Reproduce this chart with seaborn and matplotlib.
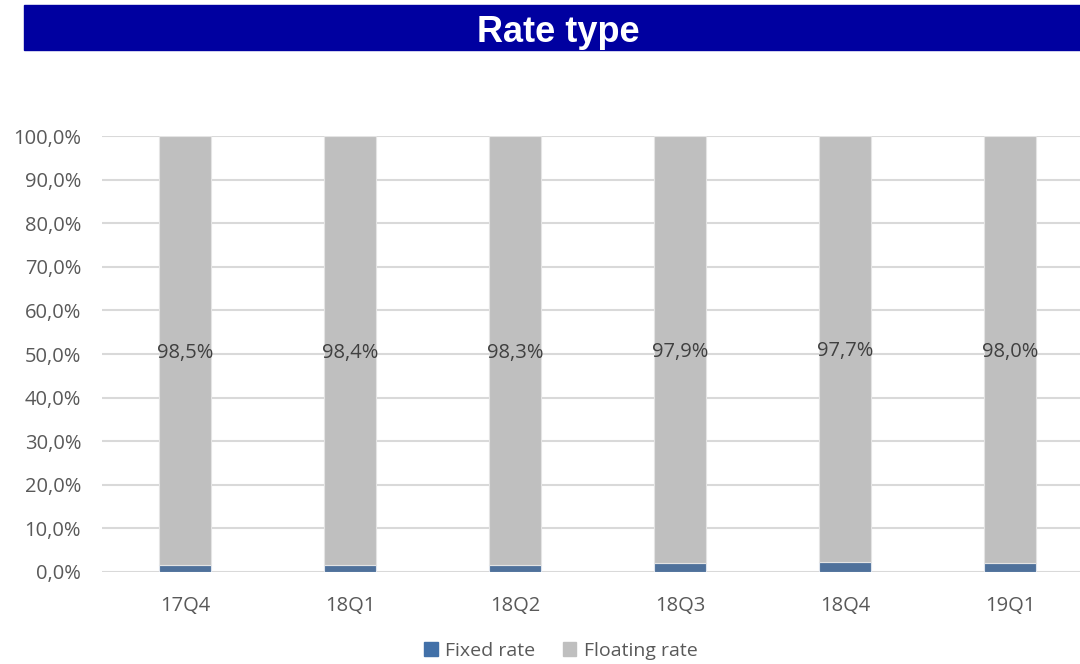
import pandas as pd
import matplotlib.pyplot as plt
import seaborn as sns
from matplotlib.patches import Rectangle, Patch

quarters = ["17Q4", "18Q1", "18Q2", "18Q3", "18Q4", "19Q1"]
floating_rate = [98.5, 98.4, 98.3, 97.9, 97.7, 98.0]
fixed_rate = [1.5, 1.6, 1.7, 2.1, 2.3, 2.0]
y_ticks = [0, 10, 20, 30, 40, 50, 60, 70, 80, 90, 100]

FIXED_COLOR = "#4270A8"
FLOAT_COLOR = "#BFBFBF"
TEXT_COLOR = "#595959"


def pct(v):
    return f"{v:.1f}".replace(".", ",") + "%"


def main():
    df = pd.DataFrame({"quarter": quarters, "fixed": fixed_rate, "floating": floating_rate})

    sns.set_style("white")
    plt.rcParams["font.family"] = ["Open Sans", "DejaVu Sans"]

    fig = plt.figure(figsize=(10.8, 6.64), dpi=100)
    ax = fig.add_axes([102 / 1080, 92 / 664, 978 / 1080, 436 / 664])

    # stacked bars: fixed at the bottom, floating on top
    sns.barplot(data=df, x="quarter", y="fixed", color=FIXED_COLOR, width=0.315,
                edgecolor="#DDE3EC", linewidth=0.8, ax=ax, zorder=3)
    sns.barplot(data=df, x="quarter", y="floating", bottom=df["fixed"], color=FLOAT_COLOR,
                width=0.315, edgecolor="#E4E4E4", linewidth=0.8, ax=ax, zorder=3)

    # labels sit at the middle of the floating segment
    for i, (fx, fl) in enumerate(zip(fixed_rate, floating_rate)):
        ax.text(i, fx + fl / 2, pct(fl), ha="center", va="center_baseline",
                fontsize=14.5, color="#404040", zorder=4)

    ax.set_ylim(0, 100)
    ax.set_xlim(-0.503, 5.424)
    ax.set_yticks(y_ticks)
    ax.set_yticklabels([pct(t) for t in y_ticks])
    ax.yaxis.grid(True, color="#D9D9D9", linewidth=1.5, zorder=0)
    ax.set_axisbelow(True)
    ax.set_xlabel("")
    ax.set_ylabel("")
    ax.tick_params(axis="both", length=0, labelsize=14.5, labelcolor=TEXT_COLOR)
    ax.tick_params(axis="x", pad=17)
    ax.tick_params(axis="y", pad=15)
    for s in ax.spines.values():
        s.set_visible(False)

    # title banner
    fig.patches.append(Rectangle((24 / 1080, 614 / 664), 1056 / 1080, 45 / 664,
                                 transform=fig.transFigure, color="#0000A0", zorder=0))
    fig.text(558 / 1080, 631 / 664, "Rate type", ha="center", va="center",
             color="white", fontsize=26, fontweight="bold",
             family=["Liberation Sans", "DejaVu Sans"])

    handles = [Patch(color=FIXED_COLOR, label="Fixed rate"),
               Patch(color=FLOAT_COLOR, label="Floating rate")]
    fig.legend(handles=handles, loc="center", bbox_to_anchor=(561 / 1080, 13 / 664),
               ncol=2, frameon=False, fontsize=14, labelcolor=TEXT_COLOR,
               handlelength=0.7, handleheight=0.7, handletextpad=0.4, columnspacing=1.4)

    fig.savefig("out.png", dpi=100)


if __name__ == "__main__":
    main()
